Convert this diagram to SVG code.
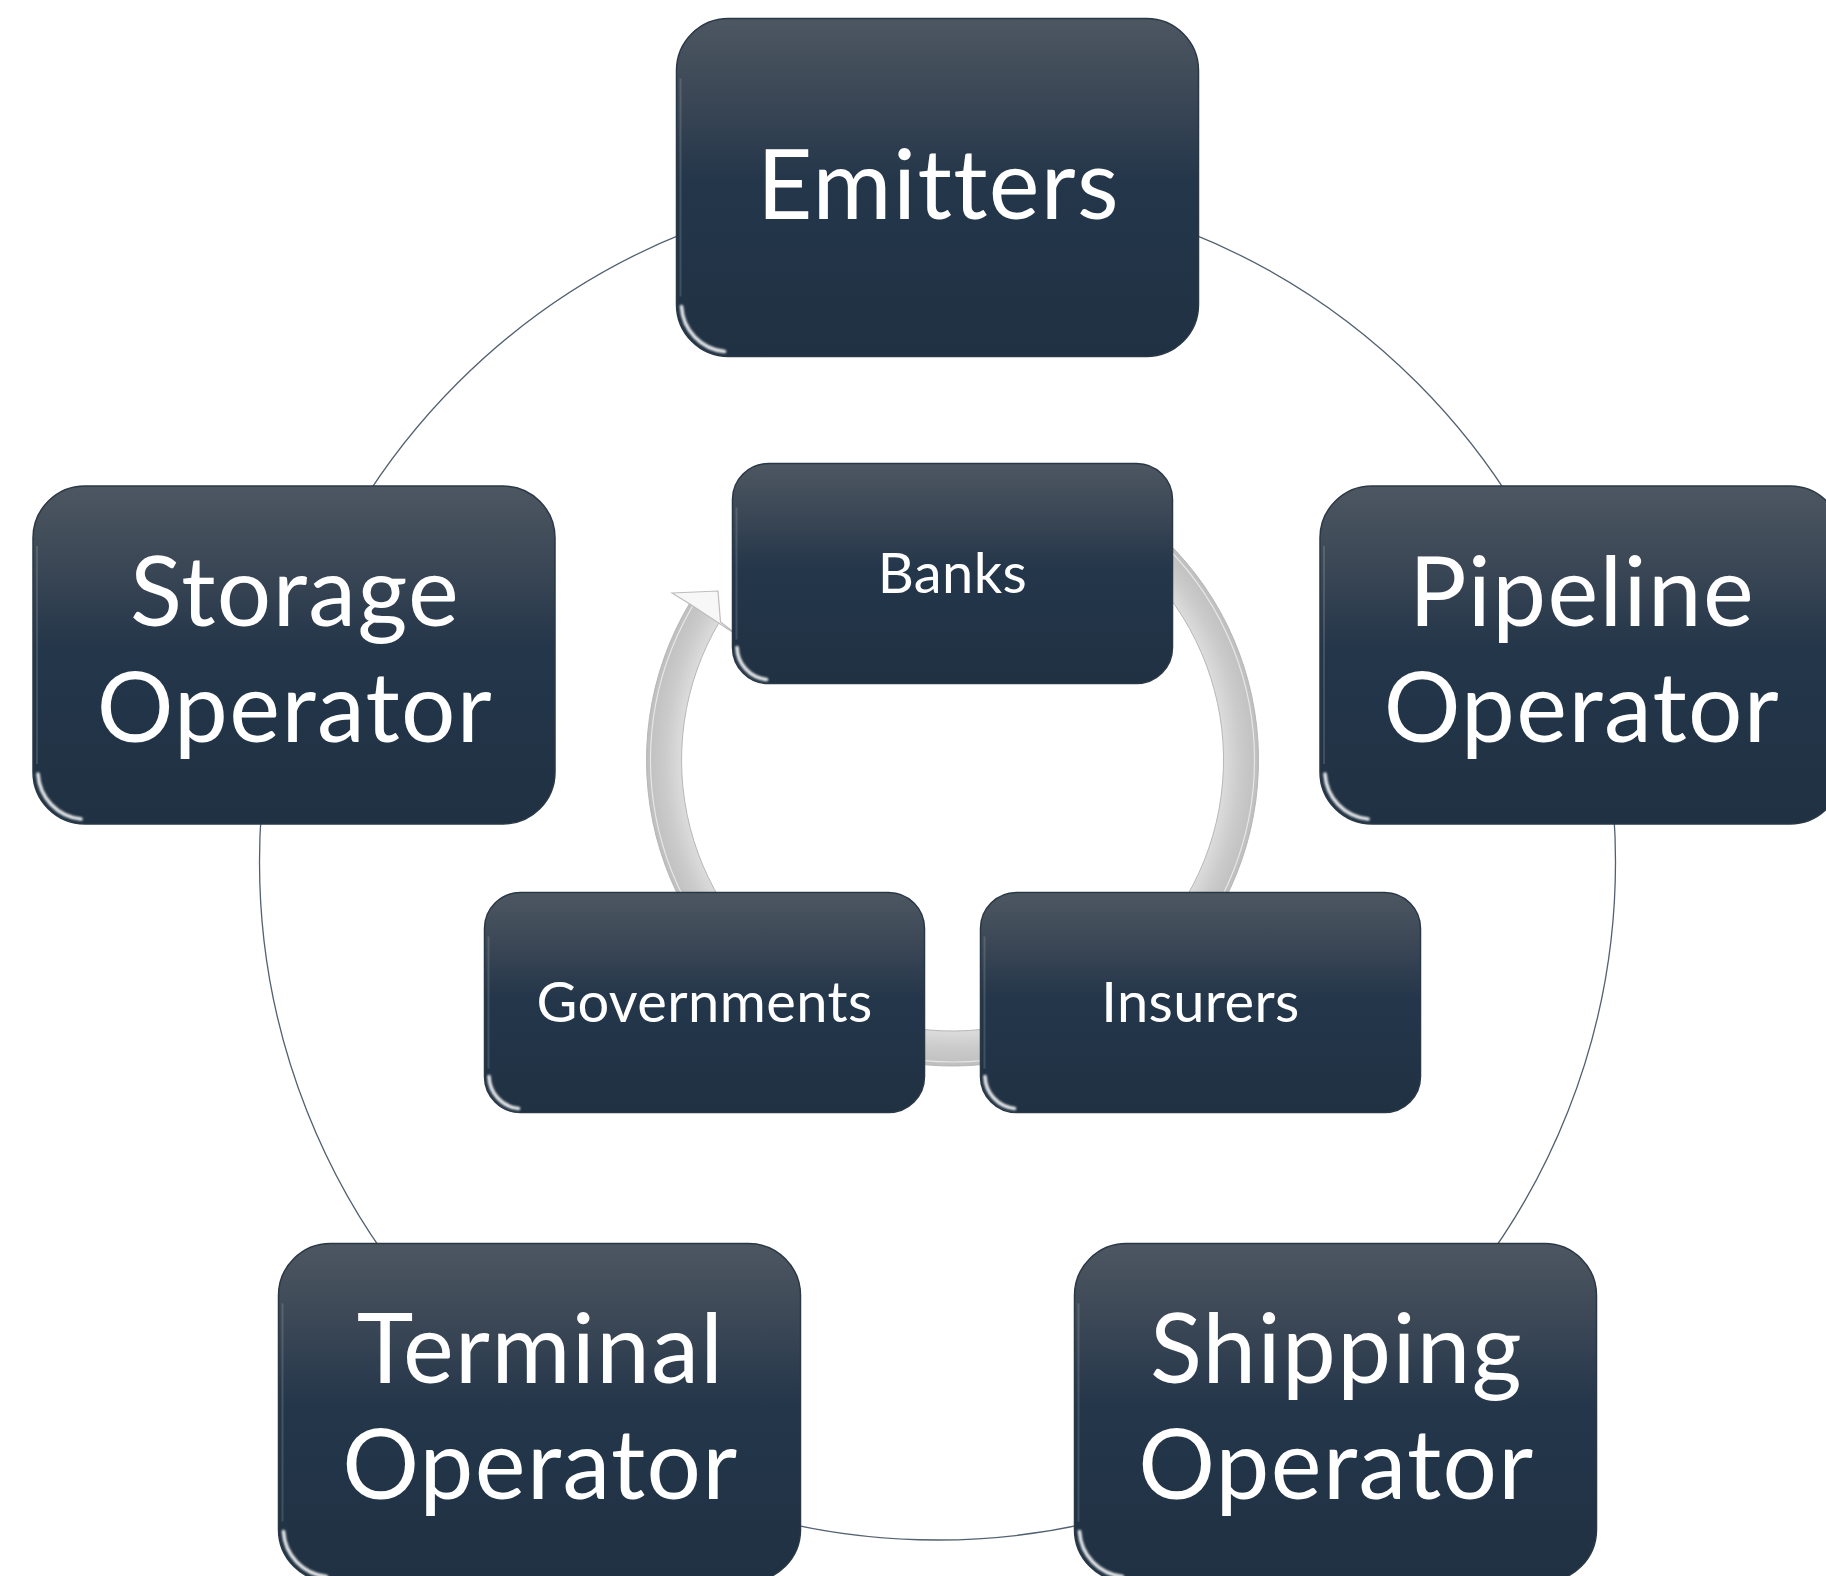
<svg xmlns="http://www.w3.org/2000/svg" xmlns:xlink="http://www.w3.org/1999/xlink" width="1826" height="1576" viewBox="0 0 1826 1576">
  <style>
    .body { fill: url(#boxFill); stroke: #2a3846; stroke-width: 1.5; }
    .hl-top { fill: none; stroke: url(#topGlow); stroke-width: 3; filter: url(#soft); }
    .hl-left { fill: none; stroke: #ffffff; stroke-opacity: 0.14; stroke-width: 2; }
    .hl-right { fill: none; stroke: url(#rightGlow); stroke-width: 2.2; }
    .hl-corner { fill: none; stroke: #ffffff; stroke-opacity: 0.9; stroke-width: 3.6; stroke-linecap: round; filter: url(#soft); }
    .label { font-family: Lato, "Noto Sans", "DejaVu Sans", sans-serif; fill: #ffffff; text-anchor: middle;
             font-variant-ligatures: none; font-feature-settings: "liga" 0, "dlig" 0; }
    .big { font-size: 96px; letter-spacing: 1.4px; }
    .small { font-size: 56px; letter-spacing: 0.4px; }
    .orbit { fill: none; stroke: #526070; stroke-width: 1.3; }
    .band { fill: url(#bandFill); stroke: #b7b7b7; stroke-width: 1; }
    .band-hl { fill: none; stroke: #ffffff; stroke-opacity: 0.6; stroke-width: 1.2; }
    .head { fill: #f7f7f7; stroke: #bdbdbd; stroke-width: 1.2; stroke-linejoin: miter; }
  </style>
  <defs>
    <linearGradient id="boxFill" x1="0" y1="0" x2="0" y2="1">
      <stop offset="0" stop-color="#4d5762"/>
      <stop offset="0.22" stop-color="#3c4856"/>
      <stop offset="0.48" stop-color="#24364a"/>
      <stop offset="1" stop-color="#1f3142"/>
    </linearGradient>
    <linearGradient id="topGlow" gradientUnits="userSpaceOnUse" x1="0" y1="0" x2="522" y2="0">
      <stop offset="0" stop-color="#ffffff" stop-opacity="0"/>
      <stop offset="0.12" stop-color="#dfe7ef" stop-opacity="0.55"/>
      <stop offset="0.88" stop-color="#dfe7ef" stop-opacity="0.55"/>
      <stop offset="1" stop-color="#ffffff" stop-opacity="0"/>
    </linearGradient>
    <linearGradient id="rightGlow" x1="0" y1="0" x2="0" y2="1">
      <stop offset="0" stop-color="#cfe4f4" stop-opacity="0"/>
      <stop offset="0.2" stop-color="#cfe4f4" stop-opacity="0.75"/>
      <stop offset="0.85" stop-color="#cfe4f4" stop-opacity="0.75"/>
      <stop offset="1" stop-color="#cfe4f4" stop-opacity="0"/>
    </linearGradient>
    <radialGradient id="bandFill" gradientUnits="userSpaceOnUse" cx="952.5" cy="760" r="306">
      <stop offset="0.885" stop-color="#dcdcdc"/>
      <stop offset="0.94" stop-color="#cbcbcb"/>
      <stop offset="1" stop-color="#bfbfbf"/>
    </radialGradient>
    <filter id="soft" x="-10%" y="-50%" width="120%" height="200%">
      <feGaussianBlur stdDeviation="0.9"/>
    </filter>

    <!-- large rounded tile, 522 x 338 -->
    <g id="tileBig">
      <rect class="body" width="522" height="338" rx="52"/>
      <path class="hl-top" d="M44 5 H478"/>
      <path class="hl-left" d="M4 60 V278"/>
      <path class="hl-right" d="M518.5 52 V292"/>
      <path class="hl-corner" d="M5 288 A48 48 0 0 0 48 333"/>
    </g>
    <!-- small rounded tile, 440 x 220 -->
    <g id="tileSmall">
      <rect class="body" width="440" height="220" rx="36"/>
      <path class="hl-top" d="M32 4.5 H408"/>
      <path class="hl-left" d="M4 44 V176"/>
      <path class="hl-right" d="M436.5 38 V186"/>
      <path class="hl-corner" d="M4.5 184 A33 33 0 0 0 34 216"/>
    </g>
  </defs>

  <rect width="1826" height="1576" fill="#ffffff"/>

  <!-- connectors: outer orbit and inner cycle arrow -->
  <g id="connectors">
    <circle class="orbit" cx="937.5" cy="862" r="678"/>
    <path class="band" d="M1105.5 495 A306 306 0 1 1 689.4 603.8 L719.5 621.7 A271 271 0 1 0 1088 525.3 Z"/>
    <circle class="band-hl" cx="952.5" cy="760" r="302"/>
    <path class="head" d="M672 593 L718 591 L720.5 622 L740 637 L689.4 603.8 Z"/>
  </g>

  <!-- outer ring of operators -->
  <g id="node-emitters">
    <use xlink:href="#tileBig" x="676.5" y="18.5"/>
    <text class="label big" x="938.5" y="218.5">Emitters</text>
  </g>
  <g id="node-pipeline">
    <use xlink:href="#tileBig" x="1320" y="486"/>
    <text class="label big" x="1582" y="626">Pipeline</text>
    <text class="label big" x="1582" y="742">Operator</text>
  </g>
  <g id="node-shipping">
    <use xlink:href="#tileBig" x="1074.5" y="1243.5"/>
    <text class="label big" x="1336.5" y="1383">Shipping</text>
    <text class="label big" x="1336.5" y="1499">Operator</text>
  </g>
  <g id="node-terminal">
    <use xlink:href="#tileBig" x="278.5" y="1243.5"/>
    <text class="label big" x="540.5" y="1383">Terminal</text>
    <text class="label big" x="540.5" y="1499">Operator</text>
  </g>
  <g id="node-storage">
    <use xlink:href="#tileBig" x="33" y="486"/>
    <text class="label big" x="295" y="626">Storage</text>
    <text class="label big" x="295" y="742">Operator</text>
  </g>

  <!-- inner cycle of financiers -->
  <g id="node-banks">
    <use xlink:href="#tileSmall" x="732.5" y="463.5"/>
    <text class="label small" x="952.5" y="593">Banks</text>
  </g>
  <g id="node-insurers">
    <use xlink:href="#tileSmall" x="980.5" y="892.5"/>
    <text class="label small" x="1200.5" y="1022">Insurers</text>
  </g>
  <g id="node-governments">
    <use xlink:href="#tileSmall" x="484.5" y="892.5"/>
    <text class="label small" x="704.5" y="1022">Governments</text>
  </g>
</svg>
